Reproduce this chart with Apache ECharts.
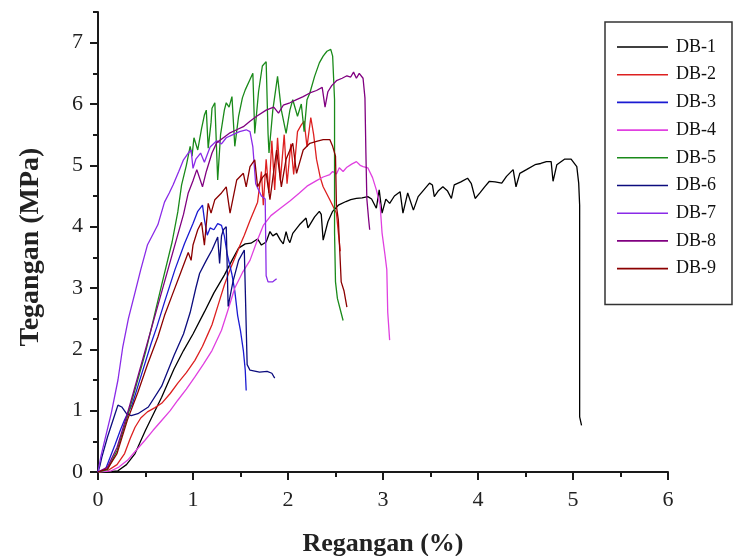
<!DOCTYPE html>
<html>
<head>
<meta charset="utf-8">
<script src="https://cdn.jsdelivr.net/npm/echarts@6/dist/echarts.min.js"></script>
<style>
html,body{margin:0;padding:0;background:#fff;}
#chart{width:735px;height:556px;}
</style>
</head>
<body>
<div id="chart"></div>
<script>
// Series names
const seriesNames = ['DB-1','DB-2','DB-3','DB-4','DB-5','DB-6','DB-7','DB-8','DB-9'];
// Axis ticks
const xTicks = [0,1,2,3,4,5,6];
const yTicks = [0,1,2,3,4,5,6,7];

// Data: [strain %, stress MPa]
const DB1 = [[0,0],[0.1,0],[0.21,0.02],[0.3,0.12],[0.39,0.3],[0.5,0.68],[0.6,1.0],[0.67,1.22],[0.8,1.68],[0.9,1.98],[1.0,2.25],[1.12,2.61],[1.22,2.92],[1.33,3.21],[1.41,3.45],[1.48,3.65],[1.55,3.72],[1.61,3.73],[1.68,3.8],[1.72,3.7],[1.77,3.75],[1.81,3.92],[1.84,3.85],[1.88,3.89],[1.92,3.78],[1.95,3.72],[1.98,3.92],[2.0,3.8],[2.02,3.74],[2.05,3.89],[2.12,4.03],[2.19,4.14],[2.21,3.98],[2.28,4.16],[2.33,4.25],[2.35,4.2],[2.37,3.78],[2.42,4.08],[2.47,4.25],[2.53,4.35],[2.61,4.41],[2.66,4.44],[2.72,4.46],[2.78,4.47],[2.84,4.49],[2.88,4.45],[2.93,4.3],[2.96,4.6],[2.99,4.22],[3.03,4.45],[3.07,4.38],[3.12,4.5],[3.18,4.57],[3.21,4.22],[3.26,4.55],[3.32,4.27],[3.37,4.49],[3.43,4.6],[3.49,4.71],[3.52,4.68],[3.54,4.49],[3.58,4.58],[3.63,4.65],[3.68,4.58],[3.72,4.46],[3.75,4.68],[3.82,4.73],[3.89,4.79],[3.93,4.7],[3.97,4.46],[4.02,4.55],[4.07,4.65],[4.12,4.74],[4.18,4.73],[4.25,4.71],[4.3,4.82],[4.37,4.93],[4.4,4.65],[4.44,4.87],[4.51,4.93],[4.6,5.01],[4.66,5.03],[4.72,5.06],[4.77,5.06],[4.79,4.74],[4.83,5.01],[4.91,5.1],[4.98,5.1],[5.04,4.98],[5.06,4.71],[5.07,4.35],[5.07,0.9],[5.09,0.76]];
const DB2 = [[0,0],[0.1,0.02],[0.2,0.12],[0.28,0.3],[0.34,0.55],[0.39,0.73],[0.45,0.88],[0.52,0.98],[0.6,1.05],[0.67,1.12],[0.76,1.28],[0.84,1.45],[0.93,1.62],[1.02,1.82],[1.1,2.05],[1.16,2.26],[1.2,2.4],[1.27,2.75],[1.33,3.05],[1.39,3.3],[1.44,3.49],[1.49,3.68],[1.54,3.86],[1.6,4.1],[1.68,4.4],[1.72,4.9],[1.74,4.35],[1.77,5.1],[1.8,4.55],[1.83,5.4],[1.86,4.6],[1.89,5.45],[1.92,4.75],[1.96,5.5],[1.99,4.7],[2.03,5.35],[2.06,4.85],[2.1,5.55],[2.14,5.66],[2.17,5.72],[2.2,5.3],[2.24,5.78],[2.27,5.5],[2.3,5.1],[2.34,4.8],[2.37,4.65],[2.44,4.44],[2.51,4.22],[2.53,3.9],[2.55,3.6]];
const DB3 = [[0,0],[0.08,0.05],[0.18,0.45],[0.24,0.7],[0.28,0.85],[0.31,0.95],[0.36,1.1],[0.42,1.4],[0.5,1.8],[0.56,2.1],[0.62,2.37],[0.7,2.77],[0.81,3.3],[0.91,3.72],[1.0,4.05],[1.05,4.25],[1.1,4.35],[1.12,4.12],[1.15,3.86],[1.18,3.98],[1.22,3.95],[1.26,4.05],[1.3,4.02],[1.33,3.85],[1.36,3.55],[1.41,3.22],[1.44,2.95],[1.47,2.55],[1.5,2.3],[1.53,1.98],[1.55,1.66],[1.56,1.33]];
const DB4 = [[0,0],[0.14,0.02],[0.22,0.08],[0.31,0.19],[0.4,0.35],[0.49,0.51],[0.58,0.68],[0.67,0.84],[0.76,1.0],[0.84,1.17],[0.93,1.35],[1.02,1.55],[1.11,1.76],[1.2,1.98],[1.3,2.31],[1.37,2.65],[1.44,3.0],[1.52,3.25],[1.6,3.45],[1.67,3.75],[1.74,4.02],[1.82,4.18],[1.92,4.3],[2.02,4.42],[2.12,4.55],[2.2,4.66],[2.3,4.75],[2.37,4.81],[2.44,4.85],[2.47,4.9],[2.51,4.86],[2.54,4.96],[2.58,4.9],[2.62,4.97],[2.67,5.02],[2.72,5.06],[2.76,5.0],[2.79,4.98],[2.84,4.96],[2.89,4.8],[2.93,4.6],[2.97,4.35],[2.99,3.9],[3.02,3.55],[3.04,3.3],[3.05,2.6],[3.07,2.15]];
const DB5 = [[0,0],[0.1,0.04],[0.2,0.35],[0.3,0.85],[0.4,1.4],[0.5,1.95],[0.57,2.4],[0.67,3.05],[0.78,3.75],[0.84,4.24],[0.88,4.68],[0.93,5.0],[0.97,5.31],[0.99,5.15],[1.01,5.45],[1.05,5.25],[1.09,5.6],[1.12,5.82],[1.14,5.9],[1.16,5.28],[1.19,5.7],[1.2,5.93],[1.23,6.02],[1.24,5.6],[1.26,4.76],[1.29,5.5],[1.33,5.9],[1.35,6.02],[1.38,5.95],[1.41,6.12],[1.44,5.31],[1.48,5.8],[1.52,6.1],[1.55,6.23],[1.6,6.4],[1.63,6.5],[1.65,5.52],[1.69,6.2],[1.73,6.62],[1.77,6.69],[1.79,5.52],[1.8,5.2],[1.84,5.9],[1.89,6.45],[1.93,5.9],[1.98,5.52],[2.02,5.9],[2.05,6.07],[2.1,5.8],[2.14,6.0],[2.17,5.55],[2.2,6.07],[2.23,6.18],[2.28,6.45],[2.33,6.67],[2.37,6.78],[2.41,6.86],[2.45,6.89],[2.47,6.78],[2.49,6.07],[2.49,3.9],[2.5,3.1],[2.52,2.83],[2.55,2.65],[2.58,2.47]];
const DB6 = [[0,0],[0.02,0.1],[0.04,0.24],[0.1,0.57],[0.18,0.95],[0.21,1.09],[0.25,1.06],[0.3,0.95],[0.35,0.92],[0.42,0.95],[0.53,1.06],[0.67,1.4],[0.8,1.9],[0.9,2.25],[0.97,2.6],[1.03,3.0],[1.07,3.24],[1.14,3.45],[1.2,3.62],[1.26,3.83],[1.28,3.4],[1.3,3.85],[1.32,3.95],[1.35,4.0],[1.37,2.7],[1.42,3.1],[1.48,3.45],[1.54,3.62],[1.56,3.6],[1.57,1.75],[1.6,1.66],[1.7,1.63],[1.78,1.64],[1.83,1.61],[1.86,1.53]];
const DB7 = [[0,0],[0.03,0.25],[0.07,0.51],[0.14,0.96],[0.21,1.5],[0.26,2.03],[0.32,2.5],[0.39,2.93],[0.45,3.3],[0.52,3.7],[0.58,3.88],[0.63,4.03],[0.7,4.4],[0.75,4.55],[0.79,4.68],[0.85,4.9],[0.9,5.09],[0.95,5.2],[0.98,5.25],[1.0,4.95],[1.03,5.1],[1.08,5.2],[1.12,5.05],[1.18,5.3],[1.25,5.4],[1.3,5.35],[1.35,5.45],[1.42,5.5],[1.49,5.55],[1.56,5.58],[1.6,5.55],[1.63,5.3],[1.66,4.7],[1.72,4.5],[1.76,4.45],[1.77,3.2],[1.79,3.1],[1.84,3.1],[1.88,3.15]];
const DB8 = [[0,0],[0.1,0.08],[0.2,0.4],[0.3,0.9],[0.4,1.45],[0.5,2.0],[0.6,2.55],[0.7,3.1],[0.8,3.65],[0.9,4.2],[0.95,4.55],[1.0,4.75],[1.04,4.93],[1.1,4.65],[1.14,4.9],[1.2,5.2],[1.25,5.37],[1.32,5.45],[1.39,5.53],[1.46,5.58],[1.53,5.63],[1.6,5.72],[1.67,5.8],[1.77,5.9],[1.85,5.95],[1.9,5.85],[1.95,5.98],[2.02,6.02],[2.09,6.07],[2.16,6.12],[2.23,6.18],[2.3,6.22],[2.36,6.27],[2.39,5.95],[2.42,6.2],[2.46,6.3],[2.51,6.38],[2.57,6.42],[2.62,6.46],[2.66,6.44],[2.69,6.52],[2.72,6.42],[2.75,6.5],[2.79,6.42],[2.81,6.1],[2.82,5.2],[2.83,4.45],[2.85,4.1],[2.86,3.95]];
const DB9 = [[0,0],[0.1,0.05],[0.2,0.3],[0.31,0.85],[0.42,1.3],[0.52,1.75],[0.63,2.2],[0.7,2.55],[0.78,2.88],[0.87,3.25],[0.95,3.58],[0.98,3.45],[1.0,3.7],[1.05,3.95],[1.09,4.07],[1.12,3.7],[1.16,4.38],[1.19,4.22],[1.23,4.44],[1.3,4.55],[1.35,4.65],[1.39,4.22],[1.46,4.76],[1.53,4.87],[1.56,4.65],[1.6,4.98],[1.65,5.09],[1.68,4.65],[1.73,4.8],[1.77,4.87],[1.81,4.44],[1.88,5.25],[1.93,4.65],[1.98,5.1],[2.05,5.36],[2.09,4.87],[2.16,5.25],[2.23,5.36],[2.3,5.39],[2.37,5.42],[2.44,5.42],[2.47,5.31],[2.5,5.15],[2.51,4.33],[2.53,4.11],[2.54,4.08],[2.56,3.1],[2.59,2.95],[2.62,2.69]];

const allData = [DB1,DB2,DB3,DB4,DB5,DB6,DB7,DB8,DB9];
const colors = ['#000000','#dd2020','#1a1ad2','#e040e0','#1a8a1a','#0c0c7e','#8a2be8','#800080','#8b0000'];

const FONT = 'Liberation Serif';
const AX = '#1a1a1a';

const chart = echarts.init(document.getElementById('chart'), null, {renderer:'canvas'});
const option = {
  animation: false,
  backgroundColor: '#ffffff',
  grid: {left: 98, right: 67, top: 12, bottom: 84, containLabel: false, outerBoundsMode: 'none'},
  legend: {
    orient: 'vertical',
    left: 605, top: 22,
    padding: [16, 16, 27, 12],
    icon: 'rect',
    itemWidth: 51, itemHeight: 1.6, itemGap: 9.7,
    borderColor: '#333', borderWidth: 1.5,
    textStyle: {fontFamily: FONT, fontSize: 18, color: '#111', lineHeight: 18, padding: [0,0,0,3]},
    data: seriesNames
  },
  xAxis: {
    type: 'value', min: 0, max: 6, interval: 1,
    axisLine: {show: true, lineStyle: {color: AX, width: 2}},
    axisTick: {show: true, length: 8, lineStyle: {color: AX, width: 2}},
    minorTick: {show: true, splitNumber: 2, length: 5, lineStyle: {color: AX, width: 2}},
    splitLine: {show: false},
    axisLabel: {fontFamily: FONT, fontSize: 22, color: '#222', margin: 17,
      customValues: xTicks},
    name: 'Regangan (%)', nameLocation: 'middle', nameGap: 59,
    nameTextStyle: {fontFamily: FONT, fontWeight: 'bold', fontSize: 26, color: '#222'}
  },
  yAxis: [
    {
      type: 'value', min: 0, max: 7.5, interval: 1,
      axisLine: {show: true, lineStyle: {color: AX, width: 2}},
      axisTick: {show: true, length: 8, lineStyle: {color: AX, width: 2}, customValues: yTicks},
      splitLine: {show: false},
      axisLabel: {fontFamily: FONT, fontSize: 22, color: '#222', margin: 15,
        customValues: yTicks,
        formatter: v => (Number.isInteger(v) ? String(v) : '')},
      name: 'Tegangan (MPa)', nameLocation: 'middle', nameGap: 53,
      nameTextStyle: {fontFamily: FONT, fontWeight: 'bold', fontSize: 28, color: '#222', padding: [0, 10, 0, 0]}
    },
    {
      type: 'value', min: 0, max: 7.5, interval: 0.5, position: 'left',
      axisLine: {show: false},
      axisTick: {show: true, length: 5, lineStyle: {color: AX, width: 2}},
      axisLabel: {show: false},
      splitLine: {show: false}
    }
  ],
  series: seriesNames.map((n, i) => ({
    name: n, type: 'line', yAxisIndex: 0,
    data: allData[i], symbol: 'none', showSymbol: false,
    color: colors[i],
    lineStyle: {width: 1.3, color: colors[i]},
    itemStyle: {color: colors[i]},
    z: 2 + i
  }))
};
chart.setOption(option);
</script>
</body>
</html>
